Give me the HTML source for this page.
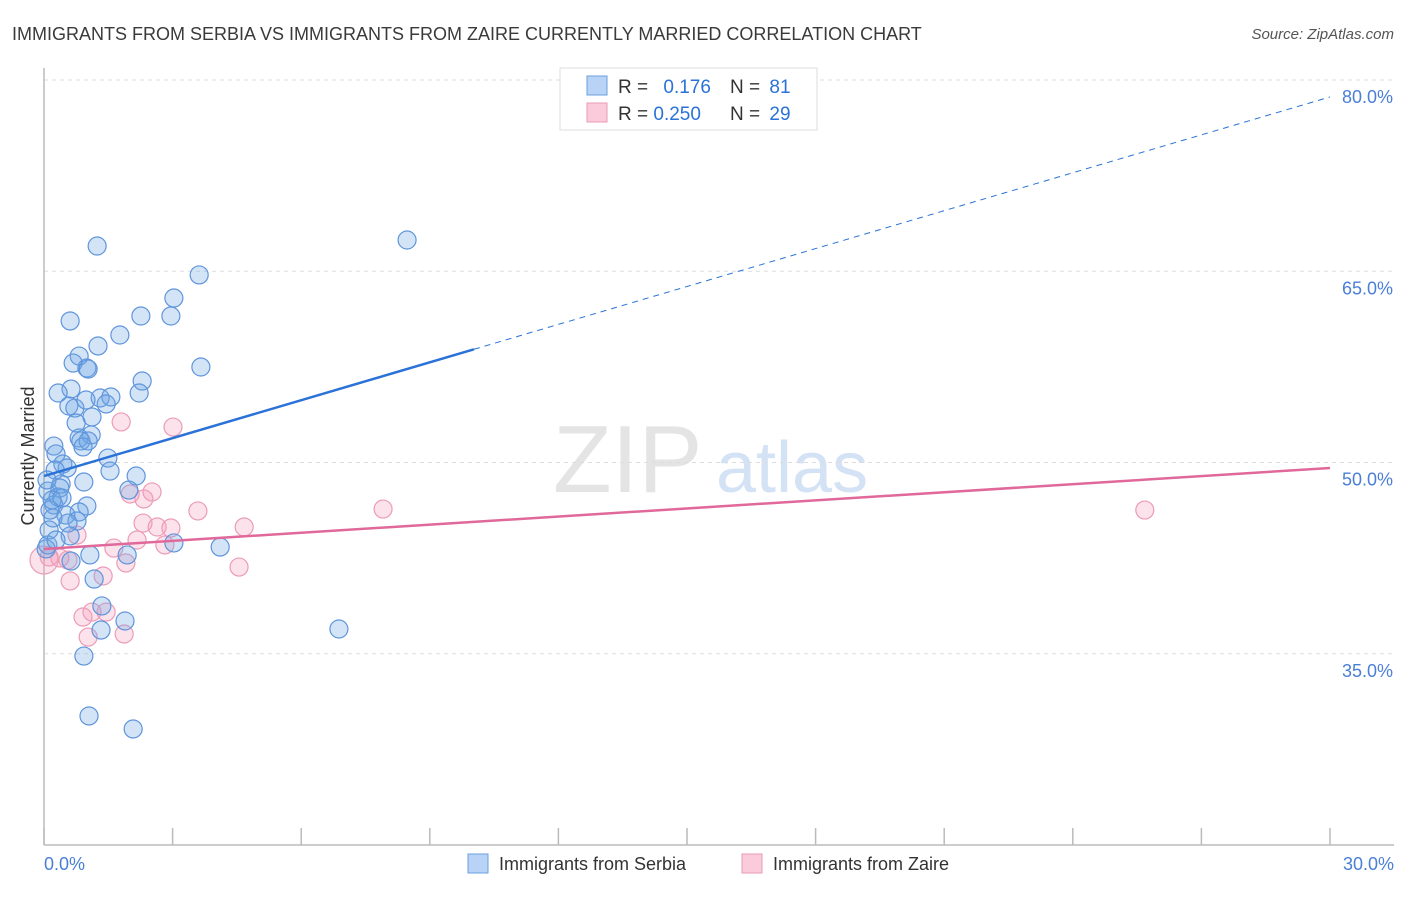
<!DOCTYPE html>
<html><head><meta charset="utf-8">
<style>
body{margin:0;background:#fff;font-family:"Liberation Sans",sans-serif;}
svg text{font-family:"Liberation Sans",sans-serif;}
</style></head>
<body>
<svg id="chart" width="1406" height="892" viewBox="0 0 1406 892">
<text x="12" y="40" font-size="18" fill="#3a3a3a">IMMIGRANTS FROM SERBIA VS IMMIGRANTS FROM ZAIRE CURRENTLY MARRIED CORRELATION CHART</text>
<text x="1394" y="39" font-size="15" fill="#555" font-style="italic" text-anchor="end">Source: ZipAtlas.com</text>
<g>
<text x="553" y="492" font-size="96" fill="#e4e4e4" font-family="Liberation Serif, serif">ZIP</text>
<text x="716" y="492" font-size="72" fill="#d3e2f5">atlas</text>
</g>
<g id="grid"></g>
<g id="axes"></g>
<g id="points"></g>
<g id="trends"></g>
<text x="34" y="456" font-size="18" fill="#333" text-anchor="middle" transform="rotate(-90 34 456)">Currently Married</text>
<g>
<rect x="560" y="68" width="257" height="62" fill="#fff" stroke="#ddd"/>
<rect x="587" y="76" width="20" height="19" fill="#b8d3f5" stroke="#6a9fe0"/>
<rect x="587" y="103" width="20" height="19" fill="#fbcadb" stroke="#e89ab5"/>
<text x="618" y="93" font-size="19" fill="#333">R = <tspan fill="#2a72d8" dx="10">0.176</tspan></text>
<text x="730" y="93" font-size="19" fill="#333">N = <tspan fill="#2a72d8" dx="4">81</tspan></text>
<text x="618" y="120" font-size="19" fill="#333">R = <tspan fill="#2a72d8">0.250</tspan></text>
<text x="730" y="120" font-size="19" fill="#333">N = <tspan fill="#2a72d8" dx="4">29</tspan></text>
</g>
<g>
<rect x="468" y="854" width="20" height="19" fill="#b8d3f5" stroke="#6a9fe0"/>
<text x="499" y="870" font-size="18" fill="#333">Immigrants from Serbia</text>
<rect x="742" y="854" width="20" height="19" fill="#fbcadb" stroke="#e89ab5"/>
<text x="773" y="870" font-size="18" fill="#333">Immigrants from Zaire</text>
</g>
</svg>
<script>
const serbiaX=[1.24,8.47,3.62,3.03,0.61,2.26,2.96,1.77,1.26,0.82,0.68,1.00,1.03,3.66,2.29,0.63,0.33,2.22,1.31,1.56,0.58,0.72,1.45,1.12,0.98,0.75,1.10,0.82,0.86,1.03,0.91,0.23,1.49,0.28,0.44,0.54,1.54,2.15,1.98,0.93,0.40,0.09,0.37,1.00,0.23,0.33,0.82,0.51,0.21,0.77,0.56,0.61,0.09,0.05,4.11,3.03,1.07,1.94,0.63,1.17,1.35,1.89,1.33,6.88,0.93,1.05,2.08,0.14,0.19,0.26,0.42,0.07,0.12,0.28];
const serbiaY=[66.98,67.45,64.71,62.90,61.10,61.49,61.49,60.0,59.14,58.35,57.80,57.41,57.33,57.49,56.39,55.76,55.45,55.45,55.06,55.14,54.43,54.27,54.59,53.57,54.90,53.10,52.16,51.92,51.69,51.69,51.22,51.29,50.35,50.67,49.88,49.57,49.33,48.94,47.84,48.47,48.31,47.76,48.0,46.59,46.67,47.29,46.12,45.88,45.65,45.41,45.25,44.24,43.53,43.22,43.37,43.69,42.75,42.75,42.27,40.86,38.75,37.57,36.86,36.94,34.82,30.12,29.10,46.27,47.06,49.41,47.22,48.63,44.71,43.92];
const zaireX=[1.80,3.01,2.33,2.01,2.52,7.91,3.59,25.68,2.31,2.64,2.96,4.67,2.17,2.82,0.77,1.63,1.91,0.12,0.37,0.56,0.0,4.55,1.38,0.61,0.91,1.12,1.45,1.03,1.87];
const zaireY=[53.18,52.78,47.14,47.53,47.69,46.35,46.20,46.27,45.25,44.94,44.86,44.94,43.92,43.53,44.31,43.29,42.12,42.59,42.51,42.35,42.35,41.80,41.10,40.71,37.88,38.27,38.27,36.31,36.55];
const yTicks=[80,65,50,35];
const yTickLabels=["80.0%","65.0%","50.0%","35.0%"];
const xTicks=[0,3,6,9,12,15,18,21,24,27,30];
const xEndLabels=["0.0%","30.0%"];
const serbiaTrend=[48.94,78.67];
const zaireTrend=[43.22,49.57];
const serbiaSolidEnd=10.03;

const NS="http://www.w3.org/2000/svg";
const sx=v=>44+v*(1286/30);
const sy=v=>80+(80-v)*12.75;
function mk(tag,attrs,parent){const e=document.createElementNS(NS,tag);for(const k in attrs)e.setAttribute(k,attrs[k]);parent.appendChild(e);return e;}
const grid=document.getElementById('grid'),axes=document.getElementById('axes'),pts=document.getElementById('points'),tr=document.getElementById('trends');
yTicks.forEach((t,i)=>{
  const l=mk('line',{x1:44,x2:1394,y1:sy(t),y2:sy(t),stroke:'#ddd','stroke-dasharray':'4,4'},grid);
  
  
  const tx=mk('text',{x:1393,y:sy(t)+23,'font-size':18,fill:'#4a7fd6','text-anchor':'end'},axes);
  tx.textContent=yTickLabels[i];
  
  
});
const ya=mk('line',{x1:44,x2:44,y1:68,y2:845,stroke:'#bbb','stroke-width':1.5},axes);


const xa=mk('line',{x1:44,x2:1394,y1:845,y2:845,stroke:'#bbb','stroke-width':1.5},axes);


xTicks.forEach(t=>{
  const l=mk('line',{x1:sx(t),x2:sx(t),y1:828,y2:845,stroke:'#bbb','stroke-width':1.5},axes);
  
  
});
[[0,'start',44],[30,'end',1394]].forEach((d,i)=>{
  const tx=mk('text',{x:d[2],y:870,'font-size':18,fill:'#4a7fd6','text-anchor':d[1]},axes);
  tx.textContent=xEndLabels[i];
  
  
});
zaireX.forEach((x,i)=>{
  const c=mk('circle',{cx:sx(x),cy:sy(zaireY[i]),r:(x===0?14:9),fill:'rgba(245,160,190,0.3)',stroke:'#eb9cb8','stroke-width':1.2},pts);
  
  
});
serbiaX.forEach((x,i)=>{
  const c=mk('circle',{cx:sx(x),cy:sy(serbiaY[i]),r:9,fill:'rgba(110,165,230,0.3)',stroke:'#5f95dc','stroke-width':1.2},pts);
  
  
});
const sAt=x=>serbiaTrend[0]+(serbiaTrend[1]-serbiaTrend[0])*x/30;
const b1=mk('line',{x1:sx(0),y1:sy(serbiaTrend[0]),x2:sx(serbiaSolidEnd),y2:sy(sAt(serbiaSolidEnd)),stroke:'#2a72d8','stroke-width':2.5},tr);


const b2=mk('line',{x1:sx(serbiaSolidEnd),y1:sy(sAt(serbiaSolidEnd)),x2:sx(30),y2:sy(serbiaTrend[1]),stroke:'#2a72d8','stroke-width':1,'stroke-dasharray':'6,5'},tr);


const p1=mk('line',{x1:sx(0),y1:sy(zaireTrend[0]),x2:sx(30),y2:sy(zaireTrend[1]),stroke:'#e0689a','stroke-width':2.5},tr);


</script>
</body></html>
